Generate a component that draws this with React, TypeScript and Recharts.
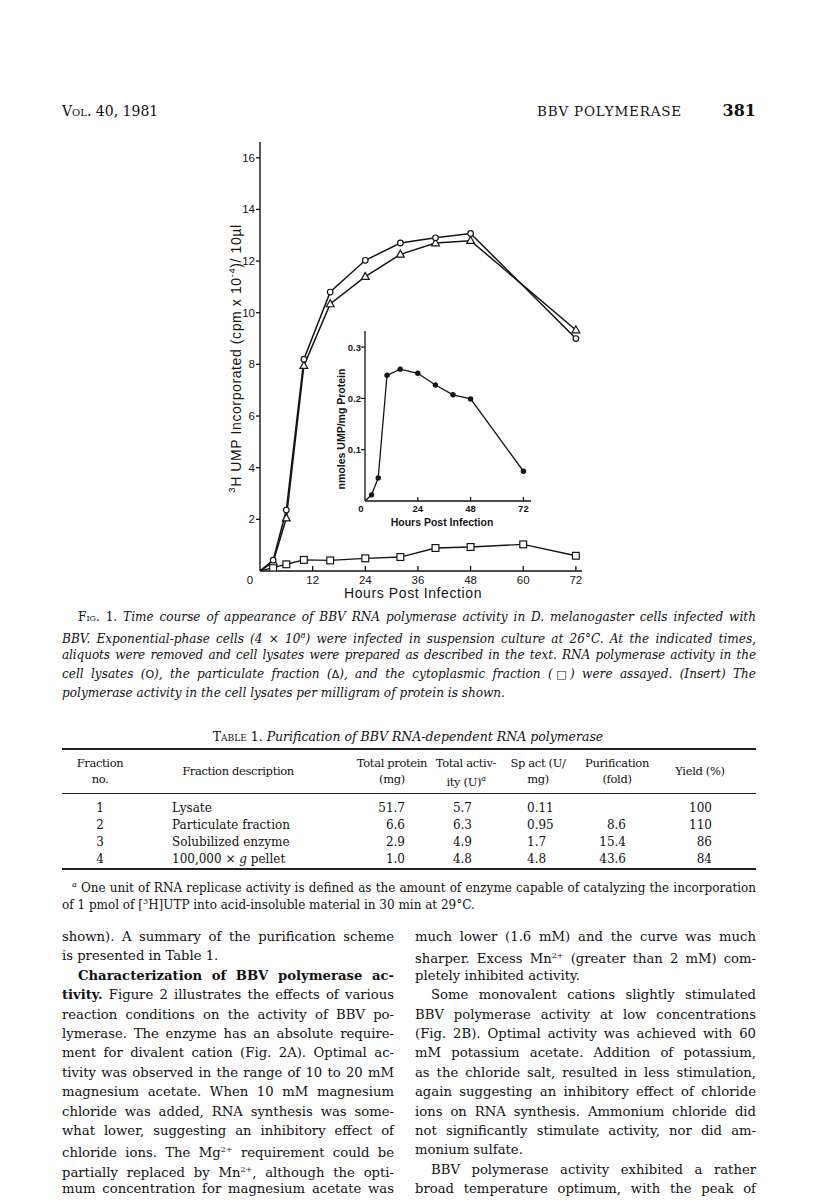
import React from 'react';
import { LineChart, Line, XAxis, YAxis, Label } from 'recharts';

// ---------- data ----------
const hours = [0, 3, 6, 10, 16, 24, 32, 40, 48, 60, 72];
const lysate = [0, 0.42, 2.36, 8.2, 10.8, 12.03, 12.7, 12.9, 13.07, null, 9.0];
const particulate = [0, 0.35, 2.05, 7.95, 10.34, 11.4, 12.26, 12.7, 12.79, null, 9.33];
const cytoplasmic = [0, 0.13, 0.26, 0.43, 0.41, 0.49, 0.54, 0.89, 0.93, 1.03, 0.59];
const xTicks = [0, 12, 24, 36, 48, 60, 72];
const yTicks = [2, 4, 6, 8, 10, 12, 14, 16];

const insetHours = [0, 3, 6, 10, 16, 24, 32, 40, 48, 72];
const specificActivity = [0, 0.012, 0.045, 0.245, 0.257, 0.249, 0.226, 0.207, 0.199, 0.058];
const insetXTicks = [0, 24, 48, 72];
const insetYTicks = [0.1, 0.2, 0.3];

const fractionNo = ['1', '2', '3', '4'];
const fractionDesc = ['Lysate', 'Particulate fraction', 'Solubilized enzyme', '100,000 \u00d7 g pellet'];
const totalProtein = ['51.7', '6.6', '2.9', '1.0'];
const totalActivity = ['5.7', '6.3', '4.9', '4.8'];
const spAct = ['0.11', '0.95', '1.7', '4.8'];
const purification = ['', '8.6', '15.4', '43.6'];
const yieldPct = ['100', '110', '86', '84'];

const mainData = hours.map((h, i) => ({ h, lysate: lysate[i], particulate: particulate[i], cyto: cytoplasmic[i] }));
const insetData = insetHours.map((h, i) => ({ h, sa: specificActivity[i] }));

const INK = '#151515';
const SANS = '"Liberation Sans", Arial, sans-serif';
const SERIF = '"DejaVu Serif", serif';

// ---------- marks ----------
const skip = (p: any) => p.index === 0 || p.cx == null || p.cy == null || p.value == null || (Array.isArray(p.value) && p.value[1] == null);

const openCircle = (p: any) =>
  skip(p) ? <g key={`oc${p.index}`} /> : <circle key={`oc${p.index}`} cx={p.cx} cy={p.cy} r={2.8} fill="#fff" stroke={INK} strokeWidth={1.2} />;
const openTriangle = (p: any) =>
  skip(p) ? <g key={`ot${p.index}`} /> : (
    <polygon key={`ot${p.index}`} points={`${p.cx},${p.cy - 4.2} ${p.cx - 3.9},${p.cy + 2.8} ${p.cx + 3.9},${p.cy + 2.8}`} fill="#fff" stroke={INK} strokeWidth={1.2} />
  );
const openSquare = (p: any) =>
  skip(p) ? <g key={`os${p.index}`} /> : <rect key={`os${p.index}`} x={p.cx - 3.4} y={p.cy - 3.4} width={6.8} height={6.8} fill="#fff" stroke={INK} strokeWidth={1.2} />;
const filledDot = (p: any) =>
  skip(p) ? <g key={`fd${p.index}`} /> : <circle key={`fd${p.index}`} cx={p.cx} cy={p.cy} r={2.7} fill={INK} stroke="none" />;

// ---------- ticks ----------
const MainXTick = (p: any) => {
  const v = p.payload.value;
  return (
    <g>
      {v !== 0 && <line x1={p.x} y1={p.y} x2={p.x} y2={p.y - 5} stroke={INK} strokeWidth={1.3} />}
      <text x={v === 0 ? p.x - 10 : p.x} y={p.y + 13} textAnchor="middle" fontSize={11.5} fontFamily={SANS} fill={INK}>{v}</text>
    </g>
  );
};
const MainYTick = (p: any) => (
  <g>
    <line x1={p.x - 4} y1={p.y} x2={p.x} y2={p.y} stroke={INK} strokeWidth={1.3} />
    <text x={p.x - 5} y={p.y + 4} textAnchor="end" fontSize={11.5} fontFamily={SANS} fill={INK}>{p.payload.value}</text>
  </g>
);
const InsetXTick = (p: any) => {
  const v = p.payload.value;
  return (
    <g>
      {v !== 0 && <line x1={p.x} y1={p.y} x2={p.x} y2={p.y - 4} stroke={INK} strokeWidth={1.2} />}
      <text x={v === 0 ? p.x - 4 : p.x} y={p.y + 11} textAnchor="middle" fontSize={9.5} fontWeight="bold" fontFamily={SANS} fill={INK}>{v}</text>
    </g>
  );
};
const InsetYTick = (p: any) => (
  <g>
    <line x1={p.x - 4} y1={p.y} x2={p.x} y2={p.y} stroke={INK} strokeWidth={1.2} />
    <text x={p.x - 4} y={p.y + 3.5} textAnchor="end" fontSize={9.5} fontWeight="bold" fontFamily={SANS} fill={INK}>{Number(p.payload.value).toFixed(1)}</text>
  </g>
);

// ---------- axis titles ----------
const mainYTitle = (props: any) => {
  const vb = props.viewBox;
  const cx = vb.x + 16;
  const cy = vb.y + vb.height / 2 + 2;
  return (
    <text x={cx} y={cy} transform={`rotate(-90, ${cx}, ${cy})`} textAnchor="middle" dominantBaseline="central" fontSize={14} letterSpacing={0.6} fontFamily={SANS} fill={INK}>
      <tspan fontSize={9.5} dy={-5}>3</tspan>
      <tspan dy={5}>H UMP Incorporated (cpm x 10</tspan>
      <tspan fontSize={9.5} dy={-5}>-4</tspan>
      <tspan dy={5}>)/ 10{'\u00b5'}l</tspan>
    </text>
  );
};
const mainXTitle = (props: any) => {
  const vb = props.viewBox;
  return (
    <text x={vb.x + vb.width / 2 - 8} y={vb.y + 22} textAnchor="middle" dominantBaseline="central" fontSize={14} letterSpacing={0.6} fontFamily={SANS} fill={INK}>
      Hours Post Infection
    </text>
  );
};
const insetYTitle = (props: any) => {
  const vb = props.viewBox;
  const cx = vb.x + 6;
  const cy = vb.y + vb.height / 2 + 13;
  return (
    <text x={cx} y={cy} transform={`rotate(-90, ${cx}, ${cy})`} textAnchor="middle" dominantBaseline="central" fontSize={10.5} fontWeight="bold" fontFamily={SANS} fill={INK}>
      nmoles UMP/mg Protein
    </text>
  );
};
const insetXTitle = (props: any) => {
  const vb = props.viewBox;
  return (
    <text x={vb.x + vb.width / 2 - 6} y={vb.y + 20.5} textAnchor="middle" dominantBaseline="central" fontSize={10.5} fontWeight="bold" fontFamily={SANS} fill={INK}>
      Hours Post Infection
    </text>
  );
};

// ---------- text helpers ----------
const JL = ({ x, y, w, children, style, align }: any) => {
  const a = align || 'justify';
  return (
    <div
      style={{
        position: 'absolute', left: x, top: y - 10, width: w, height: 20, lineHeight: '20px',
        textAlign: a, textAlignLast: a, whiteSpace: 'nowrap', color: '#111', ...style,
      }}
    >
      {children}
    </div>
  );
};

const bodyStyle = { fontFamily: SERIF, fontSize: 13.2 };
const capStyle = { fontFamily: SERIF, fontSize: 12.1, fontStyle: 'italic' };
const tblStyle = { fontFamily: SERIF, fontSize: 12 };
const thStyle = { fontFamily: SERIF, fontSize: 11.5, letterSpacing: -0.35 };
const sym = { fontStyle: 'normal', fontFamily: '"DejaVu Sans", sans-serif', fontSize: 11 };

const leftLines: any[] = [
  ['shown). A summary of the purification scheme', 0, true],
  ['is presented in Table 1.', 0, false],
  [<><b>Characterization of BBV polymerase ac-</b></>, 16, true],
  [<><b>tivity.</b> Figure 2 illustrates the effects of various</>, 0, true],
  ['reaction conditions on the activity of BBV po-', 0, true],
  ['lymerase. The enzyme has an absolute require-', 0, true],
  ['ment for divalent cation (Fig. 2A). Optimal ac-', 0, true],
  ['tivity was observed in the range of 10 to 20 mM', 0, true],
  ['magnesium acetate. When 10 mM magnesium', 0, true],
  ['chloride was added, RNA synthesis was some-', 0, true],
  ['what lower, suggesting an inhibitory effect of', 0, true],
  [<>chloride ions. The Mg<sup style={{ fontSize: 8 }}>2+</sup> requirement could be</>, 0, true],
  [<>partially replaced by Mn<sup style={{ fontSize: 8 }}>2+</sup>, although the opti-</>, 0, true],
  ['mum concentration for magnesium acetate was', 0, true],
];
const rightLines: any[] = [
  ['much lower (1.6 mM) and the curve was much', 0, true],
  [<>sharper. Excess Mn<sup style={{ fontSize: 8 }}>2+</sup> (greater than 2 mM) com-</>, 0, true],
  ['pletely inhibited activity.', 0, false],
  ['Some monovalent cations slightly stimulated', 16, true],
  ['BBV polymerase activity at low concentrations', 0, true],
  ['(Fig. 2B). Optimal activity was achieved with 60', 0, true],
  ['mM potassium acetate. Addition of potassium,', 0, true],
  ['as the chloride salt, resulted in less stimulation,', 0, true],
  ['again suggesting an inhibitory effect of chloride', 0, true],
  ['ions on RNA synthesis. Ammonium chloride did', 0, true],
  ['not significantly stimulate activity, nor did am-', 0, true],
  ['monium sulfate.', 0, false],
  ['BBV polymerase activity exhibited a rather', 16, true],
  ['broad temperature optimum, with the peak of', 0, true],
];

const captionLines: any[] = [
  [<><span style={{ fontStyle: 'normal', fontVariant: 'small-caps' }}>Fig. 1.</span> Time course of appearance of BBV RNA polymerase activity in D. melanogaster cells infected with</>, 16, true],
  [<>BBV. Exponential-phase cells (4 <span style={{ fontStyle: 'normal' }}>{'\u00d7'}</span> 10<sup style={{ fontSize: 8 }}>8</sup>) were infected in suspension culture at 26{'\u00b0'}C. At the indicated times,</>, 0, true],
  [<span style={{ letterSpacing: -0.12 }}>aliquots were removed and cell lysates were prepared as described in the text. RNA polymerase activity in the</span>, 0, true],
  [<>cell lysates (<span style={sym}>O</span>), the particulate fraction (<span style={sym}>{'\u0394'}</span>), and the cytoplasmic fraction (<span style={sym}>{'\u25a1'}</span>) were assayed. (Insert) The</>, 0, true],
  ['polymerase activity in the cell lysates per milligram of protein is shown.', 0, false],
];

const colRows = [808, 825, 842, 859];

export default function App() {
  return (
    <div style={{ position: 'absolute', left: 0, top: 0, width: 816, height: 1202, background: '#fff', overflow: 'hidden' }}>
      {/* running header */}
      <div style={{ position: 'absolute', left: 62, top: 103, fontFamily: SERIF, fontSize: 14, fontVariant: 'small-caps', color: '#111' }}>Vol. 40, 1981</div>
      <div style={{ position: 'absolute', left: 537, top: 103, fontFamily: SERIF, fontSize: 13.5, letterSpacing: 0.8, color: '#111' }}>BBV POLYMERASE</div>
      <div style={{ position: 'absolute', left: 718, top: 101, width: 38, textAlign: 'right', fontFamily: SERIF, fontSize: 16, fontWeight: 'bold', color: '#111' }}>381</div>

      {/* main chart */}
      <div style={{ position: 'absolute', left: 160, top: 100, width: 440, height: 530 }}>
        <LineChart width={440} height={530} data={mainData} margin={{ top: 42, right: 18, left: 60, bottom: 19 }}>
          <XAxis dataKey="h" type="number" domain={[0, 73.4]} ticks={xTicks} allowDataOverflow height={40}
            axisLine={{ stroke: INK, strokeWidth: 1.4 }} tickLine={false} tickSize={0} tickMargin={0} tick={MainXTick} interval={0}>
            <Label content={mainXTitle} />
          </XAxis>
          <YAxis type="number" domain={[0, 16.61]} ticks={yTicks} allowDataOverflow width={40}
            axisLine={{ stroke: INK, strokeWidth: 1.4 }} tickLine={false} tickSize={0} tickMargin={0} tick={MainYTick} interval={0}>
            <Label content={mainYTitle} />
          </YAxis>
          <Line dataKey="cyto" type="linear" stroke={INK} strokeWidth={1.4} dot={openSquare} activeDot={false} isAnimationActive={false} connectNulls />
          <Line dataKey="particulate" type="linear" stroke={INK} strokeWidth={1.5} dot={openTriangle} activeDot={false} isAnimationActive={false} connectNulls />
          <Line dataKey="lysate" type="linear" stroke={INK} strokeWidth={1.5} dot={openCircle} activeDot={false} isAnimationActive={false} connectNulls />
        </LineChart>
      </div>

      {/* inset chart */}
      <div style={{ position: 'absolute', left: 300, top: 310, width: 250, height: 230 }}>
        <LineChart width={250} height={230} data={insetData} margin={{ top: 21, right: 19, left: 35, bottom: 9 }}>
          <XAxis dataKey="h" type="number" domain={[0, 75.45]} ticks={insetXTicks} allowDataOverflow height={30}
            axisLine={{ stroke: INK, strokeWidth: 1.3 }} tickLine={false} tickSize={0} tickMargin={0} tick={InsetXTick} interval={0}>
            <Label content={insetXTitle} />
          </XAxis>
          <YAxis type="number" domain={[0, 0.3314]} ticks={insetYTicks} allowDataOverflow width={30}
            axisLine={{ stroke: INK, strokeWidth: 1.3 }} tickLine={false} tickSize={0} tickMargin={0} tick={InsetYTick} interval={0}>
            <Label content={insetYTitle} />
          </YAxis>
          <Line dataKey="sa" type="linear" stroke={INK} strokeWidth={1.3} dot={filledDot} activeDot={false} isAnimationActive={false} />
        </LineChart>
      </div>

      {/* caption */}
      {captionLines.map((l, i) => (
        <JL key={`cap${i}`} x={62 + l[1]} y={617 + i * 19} w={694 - l[1]} style={capStyle} align={l[2] ? 'justify' : 'left'}>{l[0]}</JL>
      ))}

      {/* table */}
      <div style={{ position: 'absolute', left: 0, top: 729, width: 816, textAlign: 'center', fontFamily: SERIF, fontSize: 12.5, color: '#111' }}>
        <span style={{ fontVariant: 'small-caps' }}>Table 1.</span> <i>Purification of BBV RNA-dependent RNA polymerase</i>
      </div>
      <div style={{ position: 'absolute', left: 62, top: 748, width: 694, height: 2, background: '#222' }} />
      <div style={{ position: 'absolute', left: 62, top: 793, width: 694, height: 1, background: '#222' }} />
      <div style={{ position: 'absolute', left: 62, top: 868, width: 694, height: 2, background: '#222' }} />

      <JL x={60} y={763} w={80} style={thStyle} align="center">Fraction</JL>
      <JL x={60} y={779} w={80} style={thStyle} align="center">no.</JL>
      <JL x={168} y={771} w={140} style={thStyle} align="center">Fraction description</JL>
      <JL x={352} y={763} w={80} style={thStyle} align="center">Total protein</JL>
      <JL x={352} y={779} w={80} style={thStyle} align="center">(mg)</JL>
      <JL x={426} y={763} w={80} style={thStyle} align="center">Total activ-</JL>
      <JL x={426} y={779} w={80} style={thStyle} align="center">ity (U)<sup style={{ fontSize: 8, fontStyle: 'italic' }}>a</sup></JL>
      <JL x={498} y={763} w={80} style={thStyle} align="center">Sp act (U/</JL>
      <JL x={498} y={779} w={80} style={thStyle} align="center">mg)</JL>
      <JL x={577} y={763} w={80} style={thStyle} align="center">Purification</JL>
      <JL x={577} y={779} w={80} style={thStyle} align="center">(fold)</JL>
      <JL x={660} y={771} w={80} style={thStyle} align="center">Yield (%)</JL>

      {colRows.map((y, i) => (
        <React.Fragment key={`row${i}`}>
          <JL x={80} y={y} w={40} style={tblStyle} align="center">{fractionNo[i]}</JL>
          <JL x={172} y={y} w={160} style={tblStyle} align="left">
            {i === 3 ? <>100,000 {'\u00d7'} <i>g</i> pellet</> : fractionDesc[i]}
          </JL>
          <JL x={345} y={y} w={60} style={tblStyle} align="right">{totalProtein[i]}</JL>
          <JL x={412} y={y} w={60} style={tblStyle} align="right">{totalActivity[i]}</JL>
          <JL x={527} y={y} w={60} style={tblStyle} align="left">{spAct[i]}</JL>
          <JL x={566} y={y} w={60} style={tblStyle} align="right">{purification[i]}</JL>
          <JL x={652} y={y} w={60} style={tblStyle} align="right">{yieldPct[i]}</JL>
        </React.Fragment>
      ))}

      <JL x={72} y={885} w={684} style={tblStyle}><sup style={{ fontSize: 8, fontStyle: 'italic' }}>a</sup> One unit of RNA replicase activity is defined as the amount of enzyme capable of catalyzing the incorporation</JL>
      <JL x={62} y={902} w={694} style={tblStyle} align="left">of 1 pmol of [<sup style={{ fontSize: 8 }}>3</sup>H]UTP into acid-insoluble material in 30 min at 29{'\u00b0'}C.</JL>

      {/* body text */}
      {leftLines.map((l, i) => (
        <JL key={`L${i}`} x={62 + l[1]} y={937 + i * 19.4} w={332 - l[1]} style={bodyStyle} align={l[2] ? 'justify' : 'left'}>{l[0]}</JL>
      ))}
      {rightLines.map((l, i) => (
        <JL key={`R${i}`} x={415 + l[1]} y={937 + i * 19.4} w={341 - l[1]} style={bodyStyle} align={l[2] ? 'justify' : 'left'}>{l[0]}</JL>
      ))}
    </div>
  );
}
